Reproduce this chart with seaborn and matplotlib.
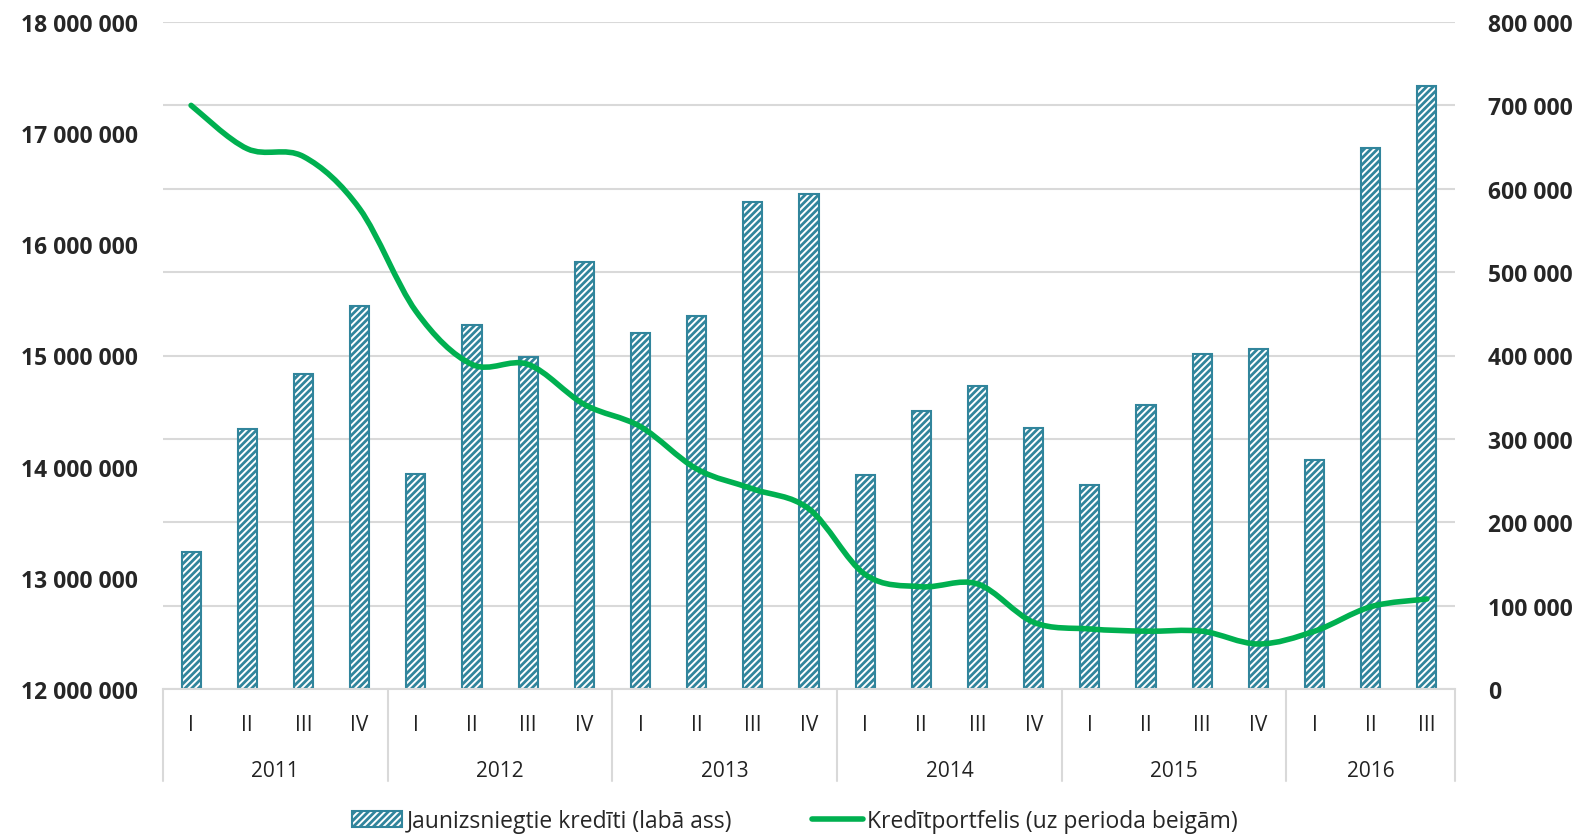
import matplotlib
matplotlib.use("Agg")
import matplotlib.pyplot as plt
import matplotlib.transforms as mtransforms
from matplotlib.lines import Line2D
from matplotlib.patches import Patch, PathPatch
from matplotlib.path import Path
from matplotlib.ticker import FuncFormatter, MultipleLocator
import numpy as np
import pandas as pd
import seaborn as sns

# ceturkšņi pa gadiem
years = ["2011", "2012", "2013", "2014", "2015", "2016"]
quarters_per_year = [
    ["I", "II", "III", "IV"],
    ["I", "II", "III", "IV"],
    ["I", "II", "III", "IV"],
    ["I", "II", "III", "IV"],
    ["I", "II", "III", "IV"],
    ["I", "II", "III"],
]

# jaunizsniegtie kredīti (labā ass)
new_loans = [
    164000, 312000, 378000, 459000,
    258000, 437000, 398000, 512000,
    427000, 447000, 584000, 594000,
    257000, 334000, 363000, 313000,
    245000, 341000, 402000, 408000,
    275000, 649000, 723000,
]

# kredītportfelis (kreisā ass)
portfolio = [
    17250000, 16860000, 16790000, 16320000,
    15400000, 14920000, 14920000, 14560000,
    14360000, 13980000, 13800000, 13620000,
    13030000, 12920000, 12945000, 12600000,
    12540000, 12520000, 12520000, 12405000,
    12520000, 12740000, 12810000,
]

bar_label = "Jaunizsniegtie kredīti (labā ass)"
line_label = "Kredītportfelis (uz perioda beigām)"

BAR_COLOR = "#31859C"
LINE_COLOR = "#00B050"
GRID_COLOR = "#D9D9D9"
FONT = ["Open Sans", "DejaVu Sans"]


def space_fmt(value, _pos):
    return f"{int(round(value)):,}".replace(",", " ")


def smooth_path(xs, ys):
    """Excel līdzīga nogludināta līnija (Catmull-Rom -> Bezier)."""
    pts = np.column_stack([xs, ys]).astype(float)
    verts = [pts[0]]
    codes = [Path.MOVETO]
    n = len(pts)
    for i in range(n - 1):
        p0 = pts[i - 1] if i > 0 else pts[i]
        p1 = pts[i]
        p2 = pts[i + 1]
        p3 = pts[i + 2] if i + 2 < n else pts[i + 1]
        c1 = p1 + (p2 - p0) / 6.0
        c2 = p2 - (p3 - p1) / 6.0
        verts += [c1, c2, p2]
        codes += [Path.CURVE4] * 3
    return Path(verts, codes)


def main():
    sns.set_theme(style="white")
    plt.rcParams["font.family"] = FONT
    plt.rcParams["hatch.linewidth"] = 2.0

    keys, quarter_labels = [], []
    for year, qs in zip(years, quarters_per_year):
        for q in qs:
            keys.append(f"{year} {q}")
            quarter_labels.append(q)
    df = pd.DataFrame({"period": keys, "new_loans": new_loans, "portfolio": portfolio})

    fig = plt.figure(figsize=(15.75, 8.37), dpi=100)
    ax = fig.add_axes([163 / 1575, 1 - 690 / 837, (1455 - 163) / 1575, 667 / 837])

    # stabiņi uz labās ass
    sns.barplot(
        data=df, x="period", y="new_loans", order=keys, ax=ax,
        color="white", saturation=1, width=0.34,
        edgecolor=BAR_COLOR, linewidth=1.5, hatch="/////",
    )
    ax.set_ylim(0, 800000)
    ax.yaxis.set_major_locator(MultipleLocator(100000))
    ax.yaxis.set_major_formatter(FuncFormatter(space_fmt))
    ax.set_xlim(-0.5, len(keys) - 0.5)
    ax.grid(axis="y", color=GRID_COLOR, linewidth=1.5)
    ax.set_axisbelow(True)
    ax.set_xlabel("")
    ax.set_ylabel("")
    for side in ["top", "left", "right"]:
        ax.spines[side].set_visible(False)
    ax.spines["bottom"].set_color(GRID_COLOR)
    ax.spines["bottom"].set_linewidth(1.5)
    ax.set_xticks(range(len(keys)))
    ax.set_xticklabels(quarter_labels, fontsize=15, color="#222222")
    ax.tick_params(axis="x", length=0, pad=18)

    # kredītportfelis uz kreisās ass
    ax2 = ax.twinx()
    ax2.set_ylim(12000000, 18000000)
    ax2.yaxis.set_major_locator(MultipleLocator(1000000))
    ax2.yaxis.set_major_formatter(FuncFormatter(space_fmt))
    ax2.yaxis.tick_left()
    ax2.tick_params(axis="y", length=0, pad=18, labelsize=16.5, labelleft=True, labelright=False)
    for lbl in ax2.get_yticklabels():
        lbl.set_fontweight("bold")
    for side in ax2.spines:
        ax2.spines[side].set_visible(False)
    ax2.add_patch(PathPatch(
        smooth_path(np.arange(len(keys)), df["portfolio"].to_numpy()),
        facecolor="none", edgecolor=LINE_COLOR, linewidth=4, capstyle="round",
    ))

    # twinx pārliek ax ticks pa kreisi, tāpēc labo pusi iestata pēc tam
    ax.yaxis.tick_right()
    ax.tick_params(axis="y", length=0, pad=24, labelsize=16.5, labelright=True, labelleft=False)
    for lbl in ax.get_yticklabels():
        lbl.set_fontweight("bold")

    # gadu grupas zem ass
    trans = mtransforms.blended_transform_factory(ax.transData, ax.transAxes)
    start = 0
    bounds = [-0.5]
    for year, qs in zip(years, quarters_per_year):
        end = start + len(qs)
        ax.text((start + end - 1) / 2, -0.122, year, transform=trans,
                ha="center", va="center", fontsize=15, color="#222222")
        bounds.append(end - 0.5)
        start = end
    for b in bounds:
        ax.plot([b, b], [0, -0.138], transform=trans, color=GRID_COLOR,
                linewidth=1.5, clip_on=False)

    handles = [
        Patch(facecolor="white", edgecolor=BAR_COLOR, hatch="/////", linewidth=1.5),
        Line2D([0], [0], color=LINE_COLOR, linewidth=4),
    ]
    fig.legend(handles, [bar_label, line_label], loc="center",
               bbox_to_anchor=(795 / 1575, 1 - 822 / 837), ncol=2, frameon=False,
               fontsize=16.5, handlelength=2.2, handletextpad=0.2, columnspacing=3.5)

    fig.savefig("out.png", dpi=100)
    plt.close(fig)


if __name__ == "__main__":
    main()
